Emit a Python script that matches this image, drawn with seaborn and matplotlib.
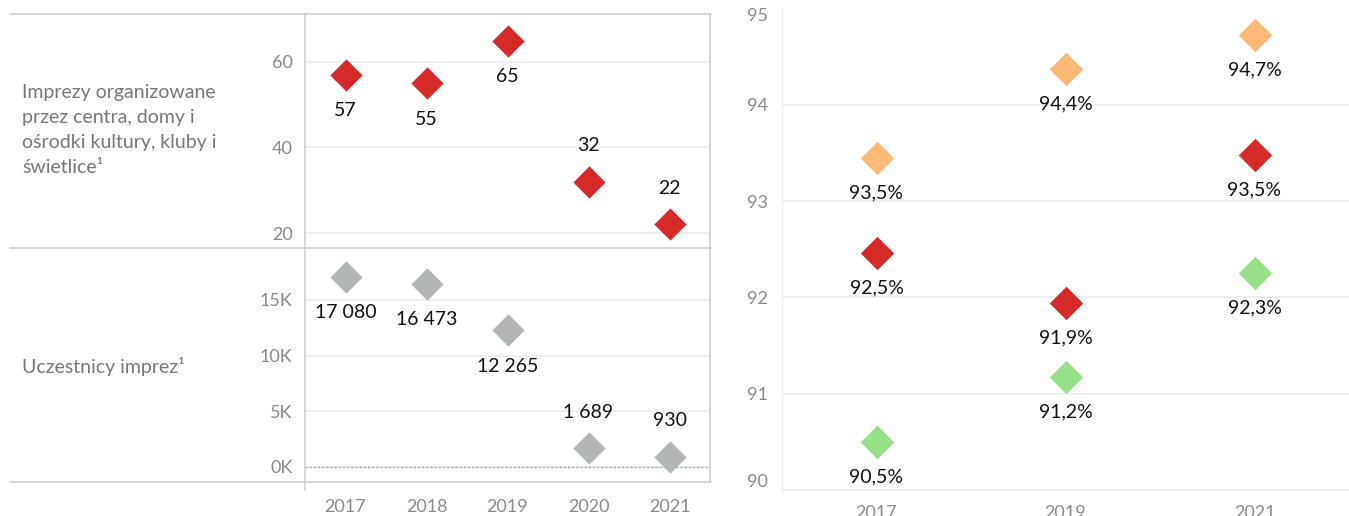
import matplotlib
matplotlib.use("Agg")
import matplotlib.pyplot as plt
import seaborn as sns
import pandas as pd
import numpy as np
from matplotlib.lines import Line2D

# ---- data ----
years = ["2017", "2018", "2019", "2020", "2021"]
events = [57, 55, 65, 32, 22]
events_labels = ["57", "55", "65", "32", "22"]
participants = [17080, 16473, 12265, 1689, 930]
participants_labels = ["17 080", "16 473", "12 265", "1 689", "930"]
label_below = [True, True, True, False, False]

years_r = ["2017", "2019", "2021"]
orange_vals = [93.45, 94.37, 94.73]
orange_labels = ["93,5%", "94,4%", "94,7%"]
red_vals = [92.46, 91.94, 93.48]
red_labels = ["92,5%", "91,9%", "93,5%"]
green_vals = [90.5, 91.17, 92.25]
green_labels = ["90,5%", "91,2%", "92,3%"]

row_titles = ["Imprezy organizowane\nprzez centra, domy i\nośrodki kultury, kluby i\nświetlice¹",
              "Uczestnicy imprez¹"]

RED = "#d62a2a"
GREY = "#b3b6b6"
ORANGE = "#ffba7a"
GREEN = "#98df8a"
TICK = "#8a8a8a"
GRID = "#ececec"
FRAME = "#cfcfcf"

sns.set_style("white")
plt.rcParams["font.family"] = ["Lato", "DejaVu Sans"]

W, H = 1349, 516
fig = plt.figure(figsize=(W / 100, H / 100), dpi=100)


def fx(px):
    return px / W


def fy(py):
    return 1 - py / H


ax1 = fig.add_axes([fx(305), fy(248), fx(710) - fx(305), fy(14) - fy(248)])
ax2 = fig.add_axes([fx(305), fy(482), fx(710) - fx(305), fy(248) - fy(482)])
ax3 = fig.add_axes([fx(782), fy(490), 1 - fx(782), fy(8.5) - fy(490)])

df1 = pd.DataFrame({"year": years, "val": events})
df2 = pd.DataFrame({"year": years, "val": participants})

sns.scatterplot(data=df1, x="year", y="val", marker="D", s=270, color=RED,
                linewidth=0, ax=ax1, zorder=3)
sns.scatterplot(data=df2, x="year", y="val", marker="D", s=270, color=GREY,
                linewidth=0, ax=ax2, zorder=3)


def annotate(ax, vals, labels, below, dist=36):
    for i, (v, lab, b) in enumerate(zip(vals, labels, below)):
        ax.annotate(lab, (i, v), xytext=(0, -dist if b else dist),
                    textcoords="offset pixels", ha="center", va="center",
                    fontsize=14, color="#111111", zorder=4)


annotate(ax1, events, events_labels, label_below)
annotate(ax2, participants, participants_labels, label_below)

for ax in (ax1, ax2):
    ax.set_xlim(-0.5, 4.5)
    for s in ax.spines.values():
        s.set_visible(False)
    ax.grid(axis="y", color=GRID, lw=1.2)
    ax.grid(axis="x", visible=False)
    ax.set_xlabel("")
    ax.set_ylabel("")
    ax.tick_params(axis="y", length=0, pad=9, labelsize=13, labelcolor=TICK)

ax1.set_ylim(16.5, 71.2)
ax1.set_yticks([20, 40, 60])
ax1.tick_params(axis="x", bottom=False, labelbottom=False)

ax2.set_ylim(-1350, 19670)
ax2.set_yticks([0, 5000, 10000, 15000])
ax2.set_yticklabels(["0K", "5K", "10K", "15K"])
ax2.axhline(0, color="#aaaaaa", ls=(0, (1.5, 1.5)), lw=1, zorder=2)
ax2.set_xticks(range(len(years)))
ax2.set_xticklabels(years)
ax2.set_xticks(np.arange(-0.5, 5), minor=True)
ax2.tick_params(axis="x", which="major", length=0, pad=12, labelsize=13, labelcolor=TICK)
ax2.tick_params(axis="x", which="minor", length=8, color="#dddddd", width=1)

# right panel
series = [(orange_vals, orange_labels, ORANGE), (red_vals, red_labels, RED),
          (green_vals, green_labels, GREEN)]
for vals, labs, col in series:
    d = pd.DataFrame({"year": years_r, "val": vals})
    sns.scatterplot(data=d, x="year", y="val", marker="D", s=290, color=col,
                    linewidth=0, ax=ax3, zorder=3)
    annotate(ax3, vals, labs, [True] * 3, dist=35)

ax3.set_xlim(-0.5, 2.453)
ax3.set_ylim(90, 95)
ax3.set_xlabel("")
ax3.set_ylabel("")
for s in ("top", "right"):
    ax3.spines[s].set_visible(False)
for s in ("left", "bottom"):
    ax3.spines[s].set_color("#eeeeee")
ax3.grid(axis="y", color=GRID, lw=1.2)
ax3.grid(axis="x", visible=False)
ax3.axhline(95, color="#f0f0f0", lw=1.2)
ax3.set_yticks([90, 91, 92, 93, 94, 95])
ax3.tick_params(axis="y", length=0, pad=10, labelsize=13, labelcolor=TICK)
ytl = ax3.get_yticklabels()
ytl[0].set_va("bottom")
ytl[-1].set_va("top")
ax3.set_xticks(range(3))
ax3.set_xticklabels(years_r)
ax3.set_xticks(np.arange(-0.5, 3), minor=True)
ax3.tick_params(axis="x", which="major", length=0, pad=11, labelsize=13, labelcolor=TICK)
ax3.tick_params(axis="x", which="minor", length=8, color="#e6e6e6", width=1)

# frame lines of the left table
for py in (14, 248, 482):
    fig.add_artist(Line2D([fx(10), fx(711)], [fy(py), fy(py)], color=FRAME, lw=1.2))
fig.add_artist(Line2D([fx(305), fx(305)], [fy(14), fy(490)], color=FRAME, lw=1.2))
fig.add_artist(Line2D([fx(710), fx(710)], [fy(14), fy(482)], color=FRAME, lw=1.2))

fig.text(fx(22), fy(130), row_titles[0], ha="left", va="center", fontsize=14,
         color="#777777", linespacing=1.58)
fig.text(fx(22), fy(366), row_titles[1], ha="left", va="center", fontsize=14,
         color="#777777")

fig.savefig("out.png", dpi=100)
